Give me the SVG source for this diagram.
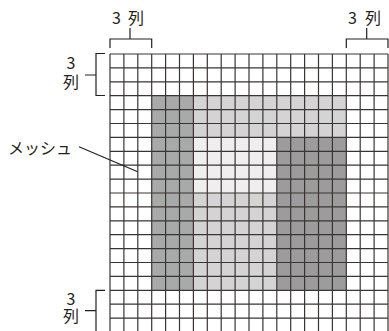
<svg xmlns="http://www.w3.org/2000/svg" width="389" height="331" viewBox="0 0 389 331">
<style>
.t{font-family:"Noto Sans CJK JP","Noto Sans",sans-serif;font-size:16px;fill:#231f20}
.ln{fill:none;stroke:#231f20;stroke-width:1.2}
.grid{fill:none;stroke:#3a3435;stroke-width:1.2}
</style>
<rect width="389" height="331" fill="#fff"/>
<g id="fills">
<rect x="151.7" y="95.7" width="41.7" height="194.6" fill="#a8aaa9"/>
<rect x="193.4" y="95.7" width="152.9" height="41.7" fill="#d4d4d4"/>
<rect x="193.4" y="137.4" width="83.4" height="55.6" fill="#efefef"/>
<rect x="193.4" y="193" width="83.4" height="97.3" fill="#d4d4d4"/>
<rect x="276.8" y="137.4" width="69.5" height="152.9" fill="#9c9c9c"/>
</g>
<g id="grid">
<path class="grid" d="M110,54V332M123.9,54V332M137.8,54V332M151.7,54V332M165.6,54V332M179.5,54V332M193.4,54V332M207.3,54V332M221.2,54V332M235.1,54V332M249,54V332M262.9,54V332M276.8,54V332M290.7,54V332M304.6,54V332M318.5,54V332M332.4,54V332M346.3,54V332M360.2,54V332M374.1,54V332M388,54V332"/>
<path class="grid" d="M110,54H388M110,67.9H388M110,81.8H388M110,95.7H388M110,109.6H388M110,123.5H388M110,137.4H388M110,151.3H388M110,165.2H388M110,179.1H388M110,193H388M110,206.9H388M110,220.8H388M110,234.7H388M110,248.6H388M110,262.5H388M110,276.4H388M110,290.3H388M110,304.2H388M110,318.1H388"/>
</g>
<g id="connectors">
<path class="ln" d="M130,28V39M110,48V39H151.7V48"/>
<path class="ln" d="M366.7,28V39M346.3,48V39H388V48"/>
<path class="ln" d="M105,53.5H96V95.5H105M85,75H96"/>
<path class="ln" d="M105,290.3H96V332M85,310.7H96"/>
<path class="ln" d="M79,146.7L137.7,171.7"/>
</g>
<g id="labels">
<text class="t" y="24"><tspan x="112">3</tspan><tspan x="128">列</tspan></text>
<text class="t" y="24"><tspan x="348">3</tspan><tspan x="365">列</tspan></text>
<text class="t" text-anchor="middle"><tspan x="71" y="68.5">3</tspan><tspan x="71" y="87.5">列</tspan></text>
<text class="t" text-anchor="middle"><tspan x="71" y="304.5">3</tspan><tspan x="71" y="321.5">列</tspan></text>
<text class="t" x="8" y="154">メッシュ</text>
</g>
</svg>
